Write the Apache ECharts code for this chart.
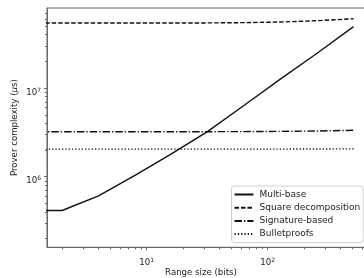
<!DOCTYPE html>
<html>
<head>
<meta charset="utf-8">
<script src="https://cdn.jsdelivr.net/npm/echarts@6/dist/echarts.min.js"></script>
<style>html,body{margin:0;padding:0;background:#fff}#c{width:364px;height:278px}</style>
</head>
<body>
<div id="c"></div>
<script>
// Range sizes (bits)
const rangeSizes = [1, 2, 4, 8, 16, 32, 64, 128, 256, 512];
// Prover complexity (microseconds)
const multiBase = [4.16e5, 4.16e5, 6.08e5, 1.035e6, 1.81e6, 3.25e6, 6.4e6, 1.27e7, 2.47e7, 4.94e7];
const squareDecomposition = [5.42e7, 5.42e7, 5.42e7, 5.42e7, 5.42e7, 5.43e7, 5.47e7, 5.56e7, 5.75e7, 6.05e7];
const signatureBased = [3.22e6, 3.22e6, 3.22e6, 3.22e6, 3.22e6, 3.22e6, 3.23e6, 3.25e6, 3.28e6, 3.34e6];
const bulletproofs = [2.05e6, 2.05e6, 2.05e6, 2.05e6, 2.05e6, 2.05e6, 2.05e6, 2.05e6, 2.055e6, 2.065e6];
const seriesNames = ['Multi-base', 'Square decomposition', 'Signature-based', 'Bulletproofs'];

const xMajorTicks = [10, 100];
const xMinorTicks = [2, 3, 4, 5, 6, 7, 8, 9, 20, 30, 40, 50, 60, 70, 80, 90, 200, 300, 400, 500, 600];
const yMajorTicks = [1e6, 1e7];
const yMinorTicks = [2e5, 3e5, 4e5, 5e5, 6e5, 7e5, 8e5, 9e5, 2e6, 3e6, 4e6, 5e6, 6e6, 7e6, 8e6, 9e6, 2e7, 3e7, 4e7, 5e7, 6e7, 7e7];

const FONT = 'DejaVu Sans';
const TXT = '#222';
const AX = '#666';

function pair(arr) { return rangeSizes.map((x, i) => [x, arr[i]]); }
function powLabel(v) {
  const e = Math.round(Math.log10(v));
  return '{b|10}{s|' + e + '}';
}
const rich = {
  b: { fontSize: 8.6, fontFamily: FONT, color: TXT },
  s: { fontSize: 6, fontFamily: FONT, color: TXT, verticalAlign: 'bottom', padding: [0, 0, 5, 0] }
};

const XMIN = 1.5, XMAX = 637, YMIN = 1.6e5, YMAX = 8e7;

const chart = echarts.init(document.getElementById('c'), null, { renderer: 'canvas' });
chart.setOption({
  animation: false,
  backgroundColor: '#fff',
  grid: { left: 47, top: 8, width: 318, height: 239.3, show: true, borderColor: AX, borderWidth: 1,
          backgroundColor: 'transparent', containLabel: false, outerBoundsMode: 'none' },
  legend: {
    orient: 'vertical', left: 231.5, top: 186,
    data: seriesNames,
    itemWidth: 19, itemHeight: 10, itemGap: 4.2,
    padding: [4, 3, 4, 2],
    backgroundColor: 'rgba(255,255,255,0.85)',
    borderColor: '#d0d0d0', borderWidth: 1, borderRadius: 3,
    itemStyle: { color: 'transparent', borderWidth: 0, opacity: 0 },
    textStyle: { fontSize: 9, fontFamily: FONT, color: TXT, padding: [0, 0, 0, 1] },
    selectedMode: false
  },
  xAxis: [
    {
      type: 'log', logBase: 10, min: XMIN, max: XMAX, gridIndex: 0,
      name: 'Range size (bits)', nameLocation: 'middle', nameGap: 21, nameMoveOverlap: false,
      nameTextStyle: { fontSize: 8.6, fontFamily: FONT, color: TXT, padding: [0, 10, 0, 0] },
      axisLine: { show: true, lineStyle: { color: AX, width: 1 } },
      axisTick: { show: true, length: 3, customValues: xMajorTicks, lineStyle: { color: AX } },
      axisLabel: { customValues: xMajorTicks, formatter: powLabel, rich: rich, margin: 10 },
      splitLine: { show: false }, minorTick: { show: false }
    },
    {
      type: 'log', logBase: 10, min: XMIN, max: XMAX, gridIndex: 0, position: 'bottom',
      axisLine: { show: false },
      axisTick: { show: true, length: 2, customValues: xMinorTicks, lineStyle: { color: AX } },
      axisLabel: { show: false },
      splitLine: { show: false }
    }
  ],
  yAxis: [
    {
      type: 'log', logBase: 10, min: YMIN, max: YMAX, gridIndex: 0,
      name: 'Prover complexity ({i|μ}s)', nameLocation: 'middle', nameGap: 28, nameMoveOverlap: false,
      nameTextStyle: { fontSize: 8.6, fontFamily: FONT, color: TXT, rich: { i: { fontStyle: 'italic', fontSize: 8.6, fontFamily: FONT, color: TXT } } },
      axisLine: { show: true, lineStyle: { color: AX, width: 1 } },
      axisTick: { show: true, length: 3, customValues: yMajorTicks, lineStyle: { color: AX } },
      axisLabel: { customValues: yMajorTicks, formatter: powLabel, rich: rich, margin: 6, padding: [9, 0, 0, 0] },
      splitLine: { show: false }
    },
    {
      type: 'log', logBase: 10, min: YMIN, max: YMAX, gridIndex: 0, position: 'left',
      axisLine: { show: false },
      axisTick: { show: true, length: 2, customValues: yMinorTicks, lineStyle: { color: AX } },
      axisLabel: { show: false },
      splitLine: { show: false }
    }
  ],
  series: [
    { name: seriesNames[0], type: 'line', data: pair(multiBase), symbol: 'none', clip: true,
      lineStyle: { color: '#111', width: 1.4, type: 'solid' }, itemStyle: { color: '#111' } },
    { name: seriesNames[1], type: 'line', data: pair(squareDecomposition), symbol: 'none', clip: true,
      lineStyle: { color: '#111', width: 1.4, type: [4.5, 2] }, itemStyle: { color: '#111' } },
    { name: seriesNames[2], type: 'line', data: pair(signatureBased), symbol: 'none', clip: true,
      lineStyle: { color: '#111', width: 1.4, type: [7.5, 2, 1.3, 2] }, itemStyle: { color: '#111' } },
    { name: seriesNames[3], type: 'line', data: pair(bulletproofs), symbol: 'none', clip: true,
      lineStyle: { color: '#111', width: 1.4, type: [1.3, 2] }, itemStyle: { color: '#111' } }
  ]
});
</script>
</body>
</html>
